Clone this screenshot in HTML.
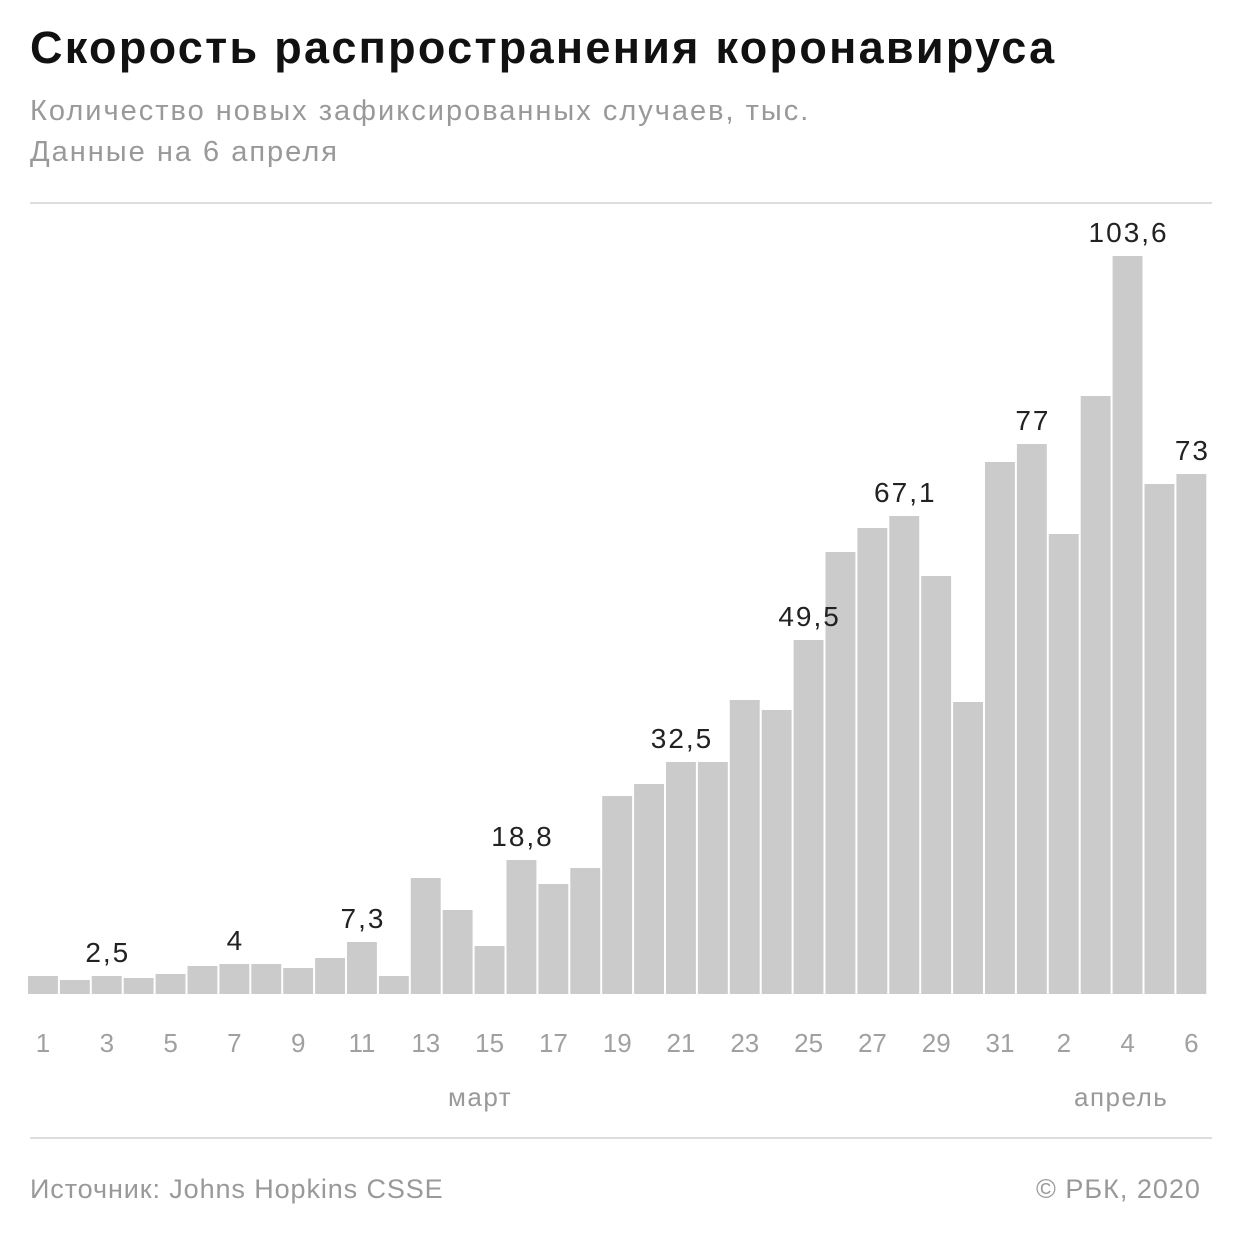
<!DOCTYPE html>
<html><head><meta charset="utf-8"><style>
body{margin:0;width:1240px;height:1240px;background:#fff;font-family:"Liberation Sans",sans-serif;position:relative;overflow:hidden}
.t{position:absolute;white-space:nowrap}
</style></head><body>
<div class="t" style="left:30px;top:22px;font-size:45px;font-weight:bold;color:#111;letter-spacing:2.3px">Скорость распространения коронавируса</div>
<div class="t" style="left:30px;top:95px;font-size:29px;color:#999;letter-spacing:2px">Количество новых зафиксированных случаев, тыс.</div>
<div class="t" style="left:30px;top:136px;font-size:29px;color:#999;letter-spacing:2px">Данные на 6 апреля</div>
<div style="position:absolute;left:30px;top:202px;width:1182px;height:2px;background:#ddd"></div>
<div style="position:absolute;left:30px;top:1137px;width:1182px;height:2px;background:#ddd"></div>
<div class="t" style="left:30px;top:1174px;font-size:27px;color:#999;letter-spacing:0.9px">Источник: Johns Hopkins CSSE</div>
<div class="t" style="left:1036px;top:1174px;font-size:27px;color:#999;letter-spacing:1px">© РБК, 2020</div>
<div class="t" style="left:448px;top:1082px;font-size:26px;color:#999;letter-spacing:1.5px">март</div>
<div class="t" style="left:1074px;top:1082px;font-size:26px;color:#999;letter-spacing:1.5px">апрель</div>
<svg width="1240" height="1240" style="position:absolute;left:0;top:0" font-family="Liberation Sans, sans-serif">
<g id="bars" fill="#cbcbcb"></g>
<g id="lab" fill="#a0a0a0" font-size="26" text-anchor="middle"></g>
<g id="val" fill="#222" font-size="28" text-anchor="middle" letter-spacing="2"></g>
</svg>
<script>
var tops=[976,980,976,978,974,966,964,964,968,958,942,976,878,910,946,860,884,868,796,784,762,762,700,710,640,552,528,516,576,702,462,444,534,396,256,484,474];
var vals={3:"2,5",7:"4",11:"7,3",16:"18,8",21:"32,5",25:"49,5",28:"67,1",32:"77",35:"103,6",37:"73"};
var b=document.getElementById('bars'),l=document.getElementById('lab'),v=document.getElementById('val');
var ns="http://www.w3.org/2000/svg",p=31.9;
for(var i=0;i<37;i++){
 var x=28+i*p;
 var r=document.createElementNS(ns,'rect');
 r.setAttribute('x',x);r.setAttribute('y',tops[i]);r.setAttribute('width',p-2);r.setAttribute('height',994-tops[i]);
 b.appendChild(r);
 var d=i+1,lbl=null;
 if(d<=31&&d%2==1)lbl=d;else if(d>31&&(d-31)%2==0)lbl=d-31;
 if(lbl!==null){var t=document.createElementNS(ns,'text');t.setAttribute('x',x+15);t.setAttribute('y',1052);t.textContent=lbl;l.appendChild(t);}
 if(vals[d]){var t2=document.createElementNS(ns,'text');t2.setAttribute('x',x+16);t2.setAttribute('y',tops[i]-14);t2.textContent=vals[d];v.appendChild(t2);}
}
</script>
</body></html>
